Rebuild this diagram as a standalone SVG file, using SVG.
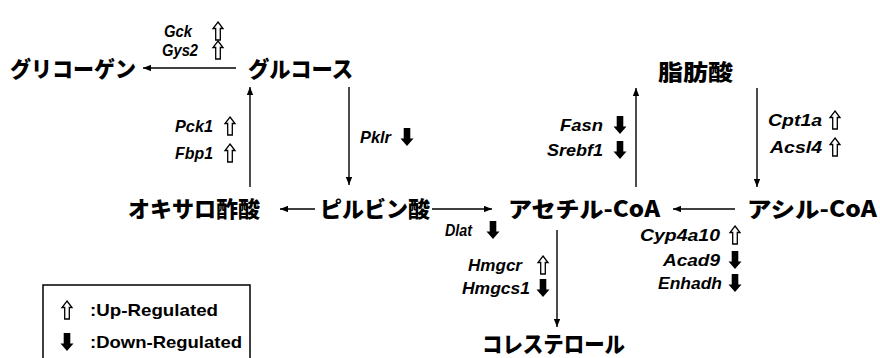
<svg xmlns="http://www.w3.org/2000/svg" width="880" height="358" viewBox="0 0 880 358">
<style>
.jp{font-family:"Noto Sans CJK JP","Noto Sans CJK SC",sans-serif;font-weight:900;font-size:22px;fill:#000;dominant-baseline:central}
.g{font-family:"Liberation Sans","Arial",sans-serif;font-weight:bold;font-style:italic;font-size:17px;fill:#000;text-anchor:end;dominant-baseline:central}
.lg{font-family:"Liberation Sans","Arial",sans-serif;font-weight:bold;font-size:17px;fill:#000;dominant-baseline:central}
.c{stroke:#000;stroke-width:1.4;fill:none;marker-end:url(#ah)}
.up{fill:#fff;stroke:#000;stroke-width:1.3}
.dn{fill:#000}
</style>
<defs>
<marker id="ah" viewBox="0 0 10 8" refX="10" refY="4" markerWidth="8" markerHeight="6.4" markerUnits="userSpaceOnUse" orient="auto">
<path d="M0,0 L10,4 L0,8 Z" fill="#000"/>
</marker>
<path id="upA" class="up" d="M0,-9 L5,-2.5 L2.3,-2.5 L2.3,9 L-2.3,9 L-2.3,-2.5 L-5,-2.5 Z"/>
<path id="dnA" class="dn" d="M-3.3,-9 L3.3,-9 L3.3,1.5 L6.5,1.5 L0,9 L-6.5,1.5 L-3.3,1.5 Z"/>
</defs>
<g id="connectors">
<line class="c" x1="236" y1="68" x2="143" y2="68"/>
<line class="c" x1="250" y1="187" x2="250" y2="87"/>
<line class="c" x1="349" y1="87" x2="349" y2="185"/>
<line class="c" x1="315" y1="209" x2="280" y2="209"/>
<line class="c" x1="432" y1="209" x2="492" y2="209"/>
<line class="c" x1="735" y1="209" x2="673" y2="209"/>
<line class="c" x1="636" y1="187" x2="636" y2="88"/>
<line class="c" x1="757" y1="88" x2="757" y2="187"/>
<line class="c" x1="557" y1="230" x2="557" y2="327"/>
</g>
<g id="glycogen"><text class="jp" x="10" y="67" textLength="126" lengthAdjust="spacingAndGlyphs">グリコーゲン</text></g>
<g id="glucose"><text class="jp" x="248" y="67" textLength="105" lengthAdjust="spacingAndGlyphs">グルコース</text></g>
<g id="fattyacid"><text class="jp" x="658" y="70" textLength="75" lengthAdjust="spacingAndGlyphs">脂肪酸</text></g>
<g id="oxaloacetate"><text class="jp" x="128" y="207" textLength="132" lengthAdjust="spacingAndGlyphs">オキサロ酢酸</text></g>
<g id="pyruvate"><text class="jp" x="320" y="207" textLength="110" lengthAdjust="spacingAndGlyphs">ピルビン酸</text></g>
<g id="acetylcoa"><text class="jp" x="508" y="207" textLength="152" lengthAdjust="spacingAndGlyphs">アセチル-CoA</text></g>
<g id="acylcoa"><text class="jp" x="747" y="207" textLength="130" lengthAdjust="spacingAndGlyphs">アシル-CoA</text></g>
<g id="cholesterol"><text class="jp" x="482" y="342" textLength="143" lengthAdjust="spacingAndGlyphs">コレステロール</text></g>
<g id="genes">
<text class="g" x="192" y="31" textLength="28" lengthAdjust="spacingAndGlyphs">Gck</text><use href="#upA" x="218" y="31"/>
<text class="g" x="198" y="50" textLength="36" lengthAdjust="spacingAndGlyphs">Gys2</text><use href="#upA" x="218" y="50"/>
<text class="g" x="213" y="126" textLength="38" lengthAdjust="spacingAndGlyphs">Pck1</text><use href="#upA" x="230" y="126"/>
<text class="g" x="213" y="153" textLength="38" lengthAdjust="spacingAndGlyphs">Fbp1</text><use href="#upA" x="230" y="153"/>
<text class="g" x="391" y="137" textLength="31" lengthAdjust="spacingAndGlyphs">Pklr</text><use href="#dnA" x="407" y="137"/>
<text class="g" x="603" y="125" textLength="43" lengthAdjust="spacingAndGlyphs">Fasn</text><use href="#dnA" x="620" y="125"/>
<text class="g" x="603" y="150" textLength="56" lengthAdjust="spacingAndGlyphs">Srebf1</text><use href="#dnA" x="620" y="150"/>
<text class="g" x="822" y="120" textLength="54" lengthAdjust="spacingAndGlyphs">Cpt1a</text><use href="#upA" x="835" y="120"/>
<text class="g" x="822" y="147" textLength="52" lengthAdjust="spacingAndGlyphs">Acsl4</text><use href="#upA" x="835" y="147"/>
<text class="g" x="472" y="230" textLength="27" lengthAdjust="spacingAndGlyphs">Dlat</text><use href="#dnA" x="493" y="230"/>
<text class="g" x="522" y="265" textLength="54" lengthAdjust="spacingAndGlyphs">Hmgcr</text><use href="#upA" x="543" y="265"/>
<text class="g" x="530" y="288" textLength="68" lengthAdjust="spacingAndGlyphs">Hmgcs1</text><use href="#dnA" x="543" y="288"/>
<text class="g" x="720" y="235" textLength="80" lengthAdjust="spacingAndGlyphs">Cyp4a10</text><use href="#upA" x="735" y="235"/>
<text class="g" x="720" y="260" textLength="57" lengthAdjust="spacingAndGlyphs">Acad9</text><use href="#dnA" x="735" y="260"/>
<text class="g" x="722" y="283" textLength="64" lengthAdjust="spacingAndGlyphs">Enhadh</text><use href="#dnA" x="735" y="283"/>
</g>
<g id="legend">
<rect x="43" y="285" width="207" height="85" fill="none" stroke="#000" stroke-width="1.5"/>
<use href="#upA" x="67" y="310"/>
<text class="lg" x="90" y="310" textLength="128" lengthAdjust="spacingAndGlyphs">:Up-Regulated</text>
<use href="#dnA" x="67" y="342"/>
<text class="lg" x="90" y="342" textLength="152" lengthAdjust="spacingAndGlyphs">:Down-Regulated</text>
</g>
</svg>
